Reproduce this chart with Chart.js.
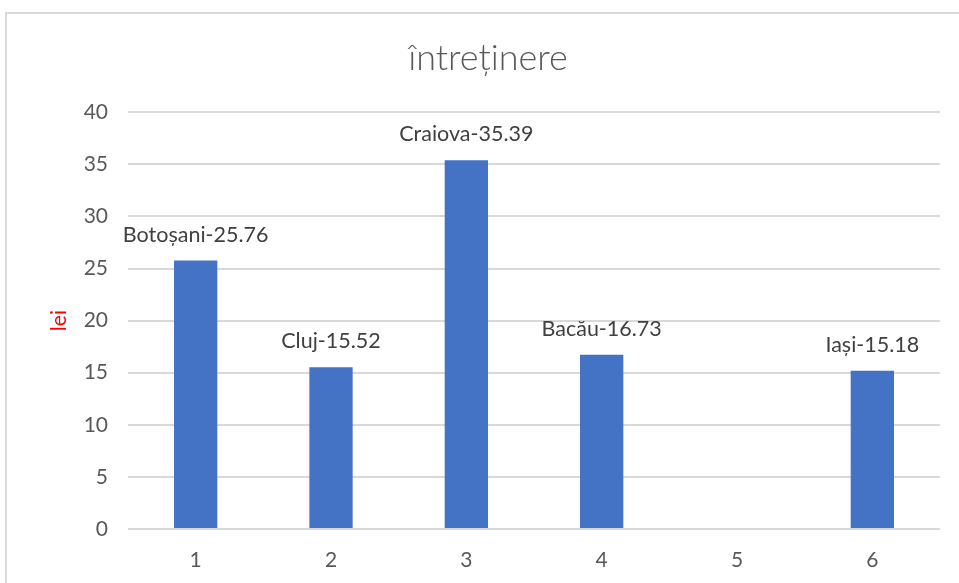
<!DOCTYPE html>
<html>
<head>
<meta charset="utf-8">
<script src="https://cdn.jsdelivr.net/npm/chart.js@4/dist/chart.umd.min.js"></script>
<style>
html,body{margin:0;padding:0;background:#fff;overflow:hidden;width:959px;height:583px;}
#frame{position:absolute;left:5px;top:12px;width:1000px;height:1000px;border:2px solid #d9d9d9;box-sizing:border-box;}
#wrap{position:absolute;left:0;top:0;width:959px;height:583px;}
</style>
</head>
<body>
<div id="frame"></div>
<div id="wrap"><canvas id="c" width="959" height="583"></canvas></div>
<script>
const categories = ['1','2','3','4','5','6'];
const cityNames = ['Botoșani','Cluj','Craiova','Bacău',null,'Iași'];
const values = [25.76, 15.52, 35.39, 16.73, null, 15.18];
const yTicks = [0,5,10,15,20,25,30,35,40];

const FONT = 'Lato, "Open Sans", sans-serif';

const labelPlugin = {
  id: 'barLabels',
  afterDatasetsDraw(chart) {
    const ctx = chart.ctx;
    const meta = chart.getDatasetMeta(0);
    ctx.save();
    ctx.font = '21.5px ' + FONT;
    ctx.fillStyle = '#404040';
    ctx.textAlign = 'center';
    ctx.textBaseline = 'middle';
    meta.data.forEach((bar, i) => {
      if (values[i] == null) return;
      ctx.fillText(cityNames[i] + '-' + values[i].toFixed(2), bar.x, bar.y - 26);
    });
    ctx.restore();
  }
};

new Chart(document.getElementById('c'), {
  type: 'bar',
  data: {
    labels: categories,
    datasets: [{
      data: values,
      backgroundColor: '#4472C4',
      borderWidth: 0,
      barPercentage: 0.64,
      categoryPercentage: 0.5
    }]
  },
  options: {
    responsive: false,
    animation: false,
    layout: { padding: { left: 36, right: 19, top: 0, bottom: 0 } },
    plugins: {
      legend: { display: false },
      tooltip: { enabled: false },
      title: {
        display: true,
        text: 'întreținere',
        color: '#595959',
        font: { family: FONT, size: 36, weight: '300' },
        padding: { top: 37, bottom: 32 }
      }
    },
    scales: {
      x: {
        grid: { display: false, drawTicks: false },
        border: { display: false },
        ticks: { color: '#595959', font: { family: FONT, size: 21 }, padding: 19 },
        afterFit(s) { s.height = 54; }
      },
      y: {
        min: 0, max: 40,
        afterBuildTicks(scale) { scale.ticks = yTicks.map(v => ({ value: v })); },
        grid: { color: '#d9d9d9', lineWidth: 2, drawTicks: false },
        border: { display: false },
        ticks: { color: '#595959', font: { family: FONT, size: 21 }, padding: 20 },
        title: {
          display: true, text: 'lei', color: '#ff0000',
          font: { family: FONT, size: 21 }, padding: { top: 11, bottom: 0 }
        },
        afterFit(s) { s.width = 92; }
      }
    }
  },
  plugins: [labelPlugin]
});
</script>
</body>
</html>
